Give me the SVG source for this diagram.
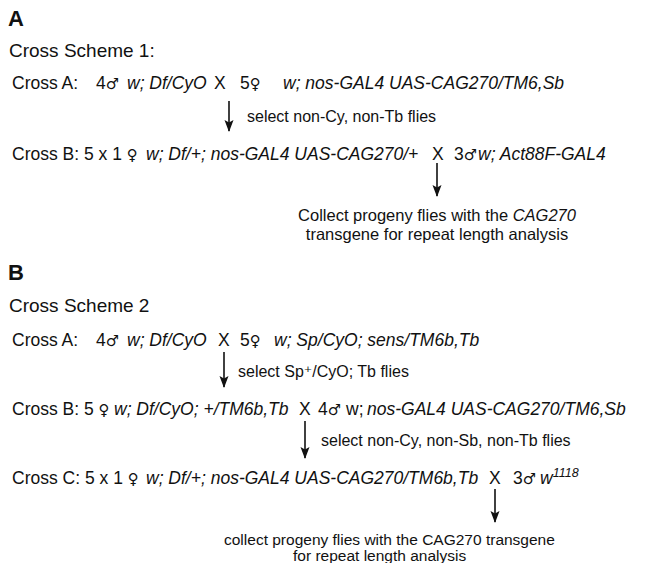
<svg xmlns="http://www.w3.org/2000/svg" width="649" height="563" viewBox="0 0 649 563">
<style>
.t{font-family:"Liberation Sans",Arial,"DejaVu Sans",sans-serif;fill:#111}
.c{font-size:17.5px}
.s{font-size:16px}
.n{font-size:15.5px}
.h{font-size:19px}
.b{font-size:22px;font-weight:bold}
.i{font-style:italic}
.sup{font-size:12.5px}
.sym{font-family:"DejaVu Sans",sans-serif;font-size:15px}
.ar{stroke:#111;stroke-width:1.6;fill:none;marker-end:url(#ah)}
</style>
<defs>
<marker id="ah" markerUnits="userSpaceOnUse" markerWidth="12" markerHeight="10" refX="11" refY="5" orient="auto" viewBox="0 0 12 10">
<path d="M0,0.5 L12,5 L0,9.5 L2.5,5 z" fill="#111"/>
</marker>
</defs>
<g id="schemeA">
<g id="labelA"><text class="t b" x="8" y="26">A</text></g>
<g id="title1"><text class="t h" x="9" y="57">Cross Scheme 1:</text></g>
<g id="s1-crossA"><text class="t c" y="89"><tspan x="12">Cross A:</tspan><tspan x="96">4</tspan><tspan class="sym">♂</tspan><tspan x="127" class="i">w; Df/CyO</tspan><tspan x="214">X</tspan><tspan x="240">5</tspan><tspan class="sym">♀</tspan><tspan x="283" class="i">w; nos-GAL4 UAS-CAG270/TM6,Sb</tspan></text></g>
<g id="s1-select"><text class="t s" x="247" y="122">select non-Cy, non-Tb flies</text></g>
<g id="s1-crossB"><text class="t c" y="160"><tspan x="12">Cross B: 5 x 1 </tspan><tspan class="sym">♀</tspan><tspan x="146" class="i">w; Df/+; nos-GAL4 UAS-CAG270/+</tspan><tspan x="432">X</tspan><tspan x="454">3</tspan><tspan class="sym">♂</tspan><tspan x="478" class="i">w; Act88F-GAL4</tspan></text></g>
<g id="s1-collect"><text class="t s" text-anchor="middle" style="font-size:16.5px"><tspan x="437" y="221">Collect progeny flies with the <tspan class="i">CAG270</tspan></tspan><tspan x="437" y="240">transgene for repeat length analysis</tspan></text></g>
</g>
<g id="schemeB">
<g id="labelB"><text class="t b" x="8" y="280">B</text></g>
<g id="title2"><text class="t h" x="9" y="312">Cross Scheme 2</text></g>
<g id="s2-crossA"><text class="t c" y="346"><tspan x="12">Cross A:</tspan><tspan x="96">4</tspan><tspan class="sym">♂</tspan><tspan x="127" class="i">w; Df/CyO</tspan><tspan x="218">X</tspan><tspan x="240">5</tspan><tspan class="sym">♀</tspan><tspan x="274" class="i">w; Sp/CyO; sens/TM6b,Tb</tspan></text></g>
<g id="s2-select1"><text class="t s" x="238" y="377">select Sp⁺/CyO; Tb flies</text></g>
<g id="s2-crossB"><text class="t c" y="415"><tspan x="12">Cross B: 5 </tspan><tspan class="sym">♀</tspan><tspan x="114" class="i">w; Df/CyO; +/TM6b,Tb</tspan><tspan x="299">X</tspan><tspan x="318">4</tspan><tspan class="sym">♂</tspan><tspan x="346">w;</tspan><tspan x="367" class="i">nos-GAL4 UAS-CAG270/TM6,Sb</tspan></text></g>
<g id="s2-select2"><text class="t s" x="321" y="446">select non-Cy, non-Sb, non-Tb flies</text></g>
<g id="s2-crossC"><text class="t c" y="484"><tspan x="12">Cross C: 5 x 1 </tspan><tspan class="sym">♀</tspan><tspan x="146" class="i">w; Df/+; nos-GAL4 UAS-CAG270/TM6b,Tb</tspan><tspan x="489">X</tspan><tspan x="513">3</tspan><tspan class="sym">♂</tspan><tspan x="540" class="i">w</tspan><tspan class="i sup" dy="-7">1118</tspan></text></g>
<g id="s2-collect"><text class="t n"><tspan x="224" y="545">collect progeny flies with the CAG270 transgene</tspan><tspan x="293" y="561">for repeat length analysis</tspan></text></g>
</g>
<g id="connectors">
<line class="ar" x1="229" y1="101" x2="229" y2="131"/>
<line class="ar" x1="437" y1="163" x2="437" y2="196"/>
<line class="ar" x1="224" y1="352" x2="224" y2="387"/>
<line class="ar" x1="305" y1="421" x2="305" y2="458"/>
<line class="ar" x1="495" y1="489" x2="495" y2="522"/>
</g>
</svg>
